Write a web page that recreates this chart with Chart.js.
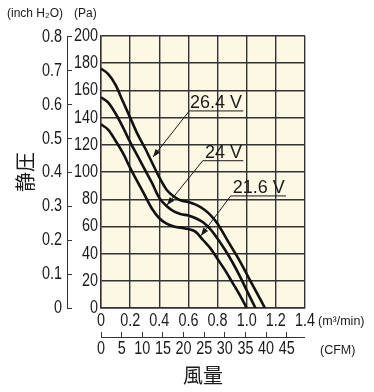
<!DOCTYPE html>
<html><head><meta charset="utf-8">
<script src="https://cdn.jsdelivr.net/npm/chart.js@4.4.0/dist/chart.umd.min.js"></script>
<style>html,body{margin:0;padding:0;background:#fff}#c{display:block}</style>
</head><body>
<div style="width:374px;height:392px;position:relative"><canvas id="c" width="374" height="392"></canvas></div>
<script>
// ---- data ----
const flow264 = [0,0.05,0.1,0.15,0.2,0.25,0.3,0.35,0.4,0.45,0.5,0.55,0.6,0.65,0.7,0.75,0.8,0.85,0.9,0.95,1.0,1.05,1.1,1.125];
const pa264   = [176,172,164,152,140,128,118,107,96,87,82,79,78,76,73,68.5,62,53,44,35,25,15,5,0];
const flow240 = [0,0.05,0.1,0.15,0.2,0.25,0.3,0.35,0.4,0.45,0.5,0.55,0.6,0.65,0.7,0.75,0.8,0.85,0.9,0.95,1.0,1.06];
const pa240   = [155,151,143,133,122,112,102,92,81,75,71,69,68,66,63,58,51,43,34,24,13,0];
const flow216 = [0,0.05,0.1,0.15,0.2,0.25,0.3,0.35,0.4,0.45,0.5,0.55,0.6,0.65,0.7,0.75,0.8,0.85,0.9,0.95,1.0];
const pa216   = [135,131,123,114,103,93,83,73,66,62,60,59,58,56,50,44,36,28,19,10,0];
const seriesLabels = ['26.4 V','24 V','21.6 V'];
const paTicks   = [0,20,40,60,80,100,120,140,160,180,200];
const inchTicks = [0,0.1,0.2,0.3,0.4,0.5,0.6,0.7,0.8];
const m3Ticks   = [0,0.2,0.4,0.6,0.8,1.0,1.2,1.4];
const cfmTicks  = [0,5,10,15,20,25,30,35,40,45];
const PA_PER_INCH = 249.0889;
const CFM_PER_M3MIN = 35.3147;

const tickFamily = "'Liberation Sans', Arial, sans-serif";
const tickSize = 18;
const ink = '#1a1a1a';
const gridCol = '#333333';

const ds = (xs, ys) => xs.map((x,i)=>({x:x, y:ys[i]}));
const fmt1 = v => v===0 ? '0' : Number(v).toFixed(1);

// numeric tick labels are drawn horizontally condensed (the reference uses a condensed face)
const condense = {
  id:'condense',
  beforeInit(c){
    const ctx=c.ctx, orig=CanvasRenderingContext2D.prototype.fillText;
    ctx.fillText=function(t,x,y,m){
      if(typeof t==='string' && /^[0-9.]+$/.test(t)){
        this.save(); this.translate(x,y); this.scale(0.8,1); orig.call(this,t,0,0); this.restore();
      } else if(m===undefined){ orig.call(this,t,x,y); } else { orig.call(this,t,x,y,m); }
    };
  }
};

const decor = {
  id:'decor',
  beforeDraw(c){
    const a=c.chartArea, ctx=c.ctx;
    ctx.save(); ctx.fillStyle='#fcf8e4'; ctx.fillRect(a.left,a.top,a.right-a.left,a.bottom-a.top); ctx.restore();
  },
  afterDraw(c){
    const ctx=c.ctx, x=c.scales.x, y=c.scales.y, inch=c.scales.inch, cfm=c.scales.cfm;
    ctx.save();
    ctx.strokeStyle=gridCol; ctx.lineWidth=1;
    const lx = Math.round(inch.right-5)+0.5;
    ctx.beginPath(); ctx.moveTo(lx, inch.getPixelForValue(0.8)); ctx.lineTo(lx, inch.getPixelForValue(0)); ctx.stroke();
    const ly = Math.round(cfm.top+5)+0.5;
    ctx.beginPath(); ctx.moveTo(cfm.getPixelForValue(0), ly); ctx.lineTo(c.chartArea.right, ly); ctx.stroke();
    ctx.fillStyle=ink; ctx.textBaseline='alphabetic'; ctx.textAlign='left';
    ctx.font="12px 'Liberation Sans', Arial, sans-serif";
    ctx.fillText('(inch H₂O)', 7, 17);
    ctx.fillText('(Pa)', 74, 17);
    ctx.font="12.5px 'Liberation Sans', Arial, sans-serif";
    ctx.fillText('(m³/min)', c.chartArea.right+13, 325);
    ctx.fillText('(CFM)', c.chartArea.right+15, 354);
    const ann = [
      {t:seriesLabels[0], u0:0.606, u1:0.977, uy:144.9, tx:0.611, ax:0.357, ay:111.0},
      {t:seriesLabels[1], u0:0.698, u1:0.977, uy:108.3, tx:0.714, ax:0.453, ay:75.7},
      {t:seriesLabels[2], u0:0.890, u1:1.270, uy:82.4, tx:0.904, ax:0.686, ay:53.2}
    ];
    ctx.font="18px 'Liberation Sans', Arial, sans-serif";
    for(const a of ann){
      const ux0=x.getPixelForValue(a.u0), ux1=x.getPixelForValue(a.u1), uy=y.getPixelForValue(a.uy);
      const tx=x.getPixelForValue(a.tx);
      const px=x.getPixelForValue(a.ax), py=y.getPixelForValue(a.ay);
      ctx.fillStyle=ink; ctx.fillText(a.t, tx, uy-2.5);
      ctx.strokeStyle=ink; ctx.lineWidth=1;
      ctx.beginPath(); ctx.moveTo(ux1, uy); ctx.lineTo(ux0, uy); ctx.lineTo(px, py); ctx.stroke();
      const ang=Math.atan2(py-uy, px-ux0), L=8, W=3;
      ctx.beginPath();
      ctx.moveTo(px,py);
      ctx.lineTo(px-L*Math.cos(ang)+W*Math.sin(ang), py-L*Math.sin(ang)-W*Math.cos(ang));
      ctx.lineTo(px-L*Math.cos(ang)-W*Math.sin(ang), py-L*Math.sin(ang)+W*Math.cos(ang));
      ctx.closePath(); ctx.fill();
    }
    ctx.restore();
  }
};

const lineStyle = {borderColor:'#111', borderWidth:2.6, pointRadius:0, fill:false, cubicInterpolationMode:'monotone', xAxisID:'x', yAxisID:'y'};

new Chart(document.getElementById('c'), {
  type:'line',
  data:{datasets:[
    Object.assign({label:seriesLabels[0], data:ds(flow264,pa264)}, lineStyle),
    Object.assign({label:seriesLabels[1], data:ds(flow240,pa240)}, lineStyle),
    Object.assign({label:seriesLabels[2], data:ds(flow216,pa216)}, lineStyle)
  ]},
  options:{
    responsive:false, animation:false, devicePixelRatio:1,
    layout:{padding:{left:0, top:36, right:69, bottom:0}},
    plugins:{legend:{display:false}, tooltip:{enabled:false}},
    scales:{
      x:{type:'linear', position:'bottom', min:0, max:1.4, weight:0,
        afterBuildTicks:s=>{s.ticks=m3Ticks.map(v=>({value:v}));},
        afterFit:s=>{s.height=24;},
        grid:{color:gridCol, lineWidth:1.4, drawTicks:false},
        border:{display:true, color:gridCol, width:1.4},
        ticks:{padding:2, color:ink, font:{family:tickFamily, size:tickSize}, maxRotation:0, autoSkip:false, callback:v=>fmt1(v)}},
      cfm:{type:'linear', axis:'x', position:'bottom', min:0, max:1.4*CFM_PER_M3MIN, weight:1,
        afterBuildTicks:s=>{s.ticks=cfmTicks.map(v=>({value:v}));},
        afterFit:s=>{s.height=60;},
        grid:{drawOnChartArea:false, drawTicks:true, tickLength:5, color:gridCol, lineWidth:1},
        border:{display:false},
        title:{display:true, text:'風量', color:ink, font:{family:"'Noto Sans CJK JP', sans-serif", size:20}, padding:{top:0,bottom:5}},
        ticks:{padding:1, color:ink, font:{family:tickFamily, size:tickSize}, maxRotation:0, autoSkip:false, callback:v=>String(v)}},
      y:{type:'linear', position:'left', min:0, max:200, weight:0,
        afterBuildTicks:s=>{s.ticks=paTicks.map(v=>({value:v}));},
        afterFit:s=>{s.width=29;},
        grid:{color:gridCol, lineWidth:1.4, drawTicks:false},
        border:{display:true, color:gridCol, width:1.4},
        ticks:{padding:3, color:ink, font:{family:tickFamily, size:tickSize}, autoSkip:false, callback:v=>String(v)}},
      inch:{type:'linear', axis:'y', position:'left', min:0, max:200/PA_PER_INCH, weight:1,
        afterBuildTicks:s=>{s.ticks=inchTicks.map(v=>({value:v}));},
        afterFit:s=>{s.width=72;},
        grid:{drawOnChartArea:false, drawTicks:true, tickLength:5, color:gridCol, lineWidth:1},
        border:{display:false},
        title:{display:true, text:'静圧', color:ink, font:{family:"'Noto Sans CJK JP', sans-serif", size:20}, padding:{top:13,bottom:0}},
        ticks:{padding:5, color:ink, font:{family:tickFamily, size:tickSize}, autoSkip:false, callback:v=>fmt1(v)}}
    }
  },
  plugins:[condense, decor]
});
</script>
</body></html>
